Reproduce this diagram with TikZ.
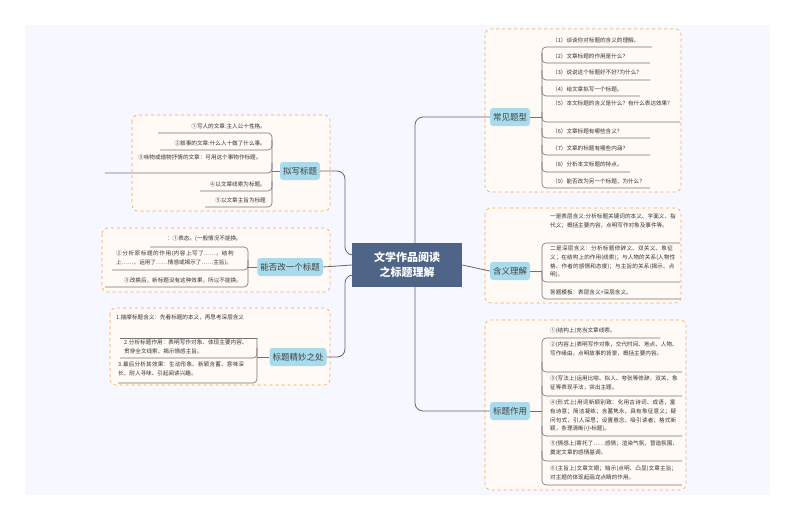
\documentclass[tikz,border=0pt]{standalone}
\usepackage{fontspec}
\setmainfont{Noto Sans CJK SC}
\XeTeXlinebreaklocale "zh"
\XeTeXlinebreakskip=0pt plus 1pt
\definecolor{brc}{HTML}{A8DBEC}
\definecolor{ctrc}{HTML}{4E6587}
\begin{document}
\begin{tikzpicture}[x=1pt,y=-1pt,
  grp/.style={draw=orange!70!brown!70, dashed, fill=orange!4, rounded corners=6, line width=0.6pt},
  br/.style={fill=brc, draw=none, rounded corners=3, font=\fontsize{8.5}{10}\selectfont, text=black!75, minimum height=18, inner sep=3},
  lf/.style={font=\fontsize{5.6}{8.6}\selectfont, text=black!80, inner sep=0, align=left},
  ln/.style={draw=black!55, line width=0.6pt},
  cn/.style={draw=black!60, line width=0.8pt, rounded corners=8},
  ctr/.style={fill=ctrc, text=white, font=\bfseries\fontsize{11}{15}\selectfont, align=center, minimum width=110, minimum height=44, inner sep=2}]
\fill[white] (0,0) rectangle (794,519);
\fill[black!2!blue!3!white] (25,25) rectangle (770,495);
\useasboundingbox (0,0) rectangle (794,519);
% groups
\draw[grp] (485,29) rectangle (681,192);
\draw[grp] (485,208) rectangle (681,303);
\draw[grp] (485,320) rectangle (686,490);
\draw[grp] (132,115) rectangle (330,211);
\draw[grp] (102,228) rectangle (330,292);
\draw[grp] (110,308) rectangle (330,385);
% center
\node[ctr] (c) at (407,265) {文学作品阅读\\之标题理解};
% branches
\node[br] (b1) at (510,117) {常见题型};
\node[br] (b2) at (510,271) {含义理解};
\node[br] (b3) at (510,411) {标题作用};
\node[br] (b4) at (300,171) {拟写标题};
\node[br] (b5) at (290,267) {能否改一个标题};
\node[br] (b6) at (298,357) {标题精妙之处};
\draw[cn] (c.center) ++(8,-22) |- (b1.west);
\draw[cn] (c.east) -- (b2.west);
\draw[cn] (c.center) ++(8,22) |- (b3.west);
\draw[cn] (c.west) ++(0,-10) -| (345,230) |- (b4.east);
\draw[cn] (c.west) -- (b5.east);
\draw[cn] (c.west) ++(0,10) -| (345,300) |- (b6.east);
\node[ctr] (c2) at (407,265) {文学作品阅读\\之标题理解};
% right 1
\draw[ln] (b1.east) -- (542,117);
\draw[ln,rounded corners=4] (652,47) -- (542,47) -- (542,188) -- (650,188);
\foreach \y/\e in {63/650,80/650,96/640,122/680,138/650,155/650,172/630}{\draw[ln,rounded corners=4] (542,\y-10) -- (542,\y) -- (\e,\y);}
\node[lf,anchor=west] (r11) at (552,40) {（1）谈谈你对标题的含义的理解。};
\node[lf,anchor=west] (r12) at (552,56) {（2）文章标题的作用是什么？};
\node[lf,anchor=west] (r13) at (552,72) {（3）说说这个标题好不好?为什么？};
\node[lf,anchor=west] (r14) at (552,89) {（4）给文章拟写一个标题。};
\node[lf,anchor=north west,text width=126] (r15) at (552,101) {（5）本文标题的含义是什么？有什么表达效果?};
\node[lf,anchor=west] (r16) at (552,131) {（6）文章标题有哪些含义？};
\node[lf,anchor=west] (r17) at (552,148) {（7）文章的标题有哪些内涵？};
\node[lf,anchor=west] (r18) at (552,164) {（8）分析本文标题的特点。};
\node[lf,anchor=west] (r19) at (552,181) {（9）能否改为另一个标题，为什么？};
% right 2
\draw[ln] (b2.east) -- (542,271);
\draw[ln,rounded corners=4] (680,243) -- (542,243) -- (542,299) -- (680,299);
\draw[ln,rounded corners=4] (542,272) -- (542,282) -- (680,282);
\node[lf,anchor=north west,text width=126] (r21) at (550,214) {一是表层含义:分析标题关键词的本义、字面义、指代义；概括主要内容，点明写作对象及事件等。};
\node[lf,anchor=north west,text width=126] (r22) at (550,246) {二是深层含义：分析标题修辞义、双关义、象征义；在结构上的作用(线索)；与人物的关系(人物性格、作者的感情和态度)；与主旨的关系(揭示、点明)。};
\node[lf,anchor=west] (r23) at (550,292) {答题模板：表层含义+深层含义。};
% right 3
\draw[ln] (b3.east) -- (542,411);
\draw[ln,rounded corners=4] (660,338) -- (542,338) -- (542,485) -- (682,485);
\foreach \y in {372,396,436,461}{\draw[ln,rounded corners=4] (542,\y-10) -- (542,\y) -- (682,\y);}
\node[lf,anchor=west] (r31) at (550,331) {①(结构上)充当文章线索。};
\node[lf,anchor=north west,text width=128] (r32) at (550,342) {②(内容上)表明写作对象，交代时间、地点、人物、写作缘由，点明故事的背景，概括主要内容。};
\node[lf,anchor=north west,text width=128] (r33) at (550,376) {③(写法上)运用比喻、拟人、夸张等修辞，双关、象征等表现手法，突出主题。};
\node[lf,anchor=north west,text width=128] (r34) at (550,400) {④(形式上)用词新颖别致：化用古诗词、成语，富有诗意；简洁凝练；含蓄隽永，具有象征意义；疑问句式，引人深思；设置悬念，吸引读者；格式新颖，条理清晰(小标题)。};
\node[lf,anchor=north west,text width=128] (r35) at (550,441) {⑤(情感上)寄托了……感情；渲染气氛，营造氛围，奠定文章的感情基调。};
\node[lf,anchor=north west,text width=128] (r36) at (550,466) {⑥(主旨上)文章文眼；暗示(点明、凸显)文章主旨；对主题的体现起画龙点睛的作用。};
% left 1
\draw[ln] (b4.west) -- (272,171);
\draw[ln,rounded corners=4] (158,133) -- (272,133) -- (272,207) -- (205,207);
\foreach \y/\s in {150/160,173/105,191/200}{\draw[ln,rounded corners=4] (272,\y-10) -- (272,\y) -- (\s,\y);}
\node[lf,anchor=east] (l11) at (266,126) {①写人的文章:主人公十性格。};
\node[lf,anchor=east] (l12) at (266,143) {②叙事的文章:什么人十做了什么事。};
\node[lf,anchor=north west,text width=128] (l13) at (138,155) {③咏物或借物抒情的文章：可用这个事物作标题。};
\node[lf,anchor=east] (l14) at (266,184) {④以文章线索为标题。};
\node[lf,anchor=east] (l15) at (266,200) {⑤以文章主旨为标题};
% left 2
\draw[ln] (b5.west) -- (248,267);
\draw[ln,rounded corners=4] (150,247) -- (248,247) -- (248,287) -- (105,287);
\draw[ln,rounded corners=4] (248,260) -- (248,270) -- (112,270);
\node[lf,anchor=east] (l21) at (242,239) {：①表态。(一般情况不能换。};
\node[lf,anchor=north west,text width=124] (l22) at (116,251) {②分析原标题的作用(内容上写了……，结构上……，运用了……情感或揭示了……主旨)。};
\node[lf,anchor=east] (l23) at (242,280) {③改换后，新标题没有这种效果，所以不能换。};
% left 3
\draw[ln] (b6.west) -- (257,357);
\draw[ln,rounded corners=4] (257,338) -- (257,383) -- (118,383);
\draw[ln] (120,338) -- (257,338);
\draw[ln,rounded corners=4] (257,348) -- (257,358) -- (120,358);
\node[lf,anchor=north west,text width=128] (l31) at (116,315) {1.揣摩标题含义：先看标题的本义，再思考深层含义};
\node[lf,anchor=north west,text width=124] (l32) at (124,340) {2.分析标题作用：表明写作对象、体现主要内容、贯穿全文线索、揭示情感主旨。};
\node[lf,anchor=north west,text width=128] (l33) at (118,362) {3.最后分析其效果：生动形象、新颖含蓄、意味深长、耐人寻味、引起阅读兴趣。};
\end{tikzpicture}
\end{document}
